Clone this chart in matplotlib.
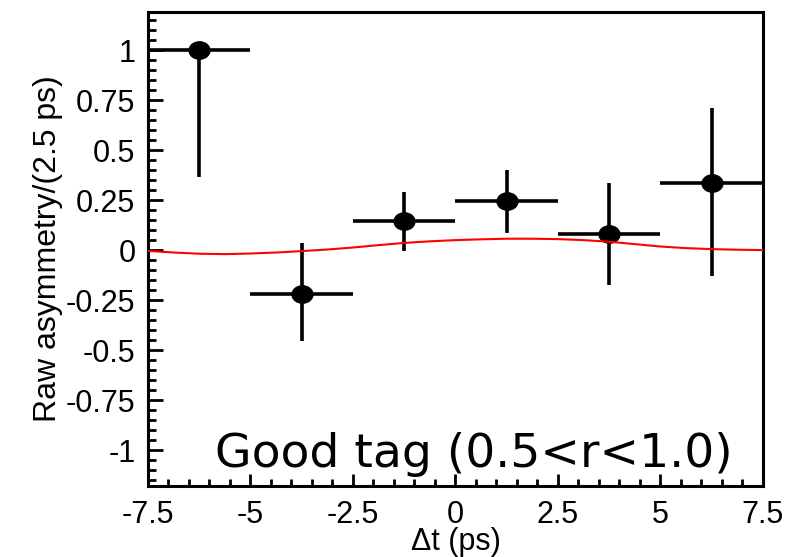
import matplotlib
matplotlib.use("Agg")
import matplotlib.pyplot as plt
from matplotlib.path import Path
from matplotlib.transforms import Affine2D
from matplotlib.ticker import FixedLocator, MultipleLocator

plt.rcParams["axes.unicode_minus"] = False

# binned raw asymmetry
dt_bins = [-6.25, -3.75, -1.25, 1.25, 3.75, 6.25]
bin_halfwidth = [1.25, 1.25, 1.25, 1.25, 1.25, 1.25]
asym = [1.0, -0.222, 0.148, 0.245, 0.083, 0.337]
err_lo = [0.635, 0.233, 0.15, 0.158, 0.258, 0.467]
err_hi = [0.0, 0.257, 0.142, 0.155, 0.254, 0.373]

# fit curve
fit_t = [-7.5, -6.875, -6.25, -5.625, -5.0, -4.375, -3.75, -3.125, -2.5, -1.875,
         -1.25, -0.625, 0.0, 0.625, 1.25, 1.875, 2.5, 3.125, 3.75, 4.375,
         5.0, 5.625, 6.25, 6.875, 7.5]
fit_a = [-0.004, -0.012, -0.018, -0.02, -0.017, -0.012, -0.005, 0.003, 0.013, 0.025,
         0.036, 0.044, 0.05, 0.054, 0.057, 0.057, 0.055, 0.05, 0.042, 0.03,
         0.018, 0.01, 0.005, 0.002, 0.0]

xticks = [-7.5, -5, -2.5, 0, 2.5, 5, 7.5]
xticklabels = ["-7.5", "-5", "-2.5", "0", "2.5", "5", "7.5"]
yticks = [1, 0.75, 0.5, 0.25, 0, -0.25, -0.5, -0.75, -1]
yticklabels = ["1", "0.75", "0.5", "0.25", "0", "-0.25", "-0.5", "-0.75", "-1"]

fig = plt.figure(figsize=(8.04, 5.57), dpi=100)
ax = fig.add_axes([0.184, 0.1275, 0.765, 0.8505])

ellipse = Path.unit_circle().transformed(Affine2D().scale(1.2, 1.0))

ax.errorbar(dt_bins, asym, xerr=bin_halfwidth, yerr=[err_lo, err_hi],
            fmt="none", ecolor="black", elinewidth=2.6, capsize=0, zorder=2)
ax.plot(dt_bins, asym, linestyle="none", marker=ellipse, markersize=15,
        color="black", zorder=3)
ax.plot(fit_t, fit_a, color="red", linewidth=1.5, zorder=4)

ax.set_xlim(-7.5, 7.5)
ax.set_ylim(-1.18, 1.19)

ax.xaxis.set_major_locator(FixedLocator(xticks))
ax.set_xticklabels(xticklabels)
ax.xaxis.set_minor_locator(MultipleLocator(0.5))
ax.yaxis.set_major_locator(FixedLocator(yticks))
ax.set_yticklabels(yticklabels)
ax.yaxis.set_minor_locator(MultipleLocator(0.05))

ax.tick_params(which="both", direction="in", top=False, right=False,
               width=2, labelsize=22, labelfontfamily="Liberation Sans")
ax.tick_params(axis="y", which="major", length=11, pad=9)
ax.tick_params(axis="y", which="minor", length=6)
ax.tick_params(axis="x", which="major", length=9, pad=10)
ax.tick_params(axis="x", which="minor", length=5)
for sp in ax.spines.values():
    sp.set_linewidth(2.2)

ax.set_xlabel("\u0394t (ps)", fontsize=22, family="Liberation Sans", labelpad=-2)
ax.set_ylabel("Raw asymmetry/(2.5 ps)", fontsize=23, family="Liberation Sans",
              labelpad=2)

ax.text(-5.87, -1.085, "Good tag (0.5<r<1.0)", fontsize=34,
        family="DejaVu Sans", va="baseline", ha="left", zorder=5)

fig.savefig("out.png", dpi=100)
